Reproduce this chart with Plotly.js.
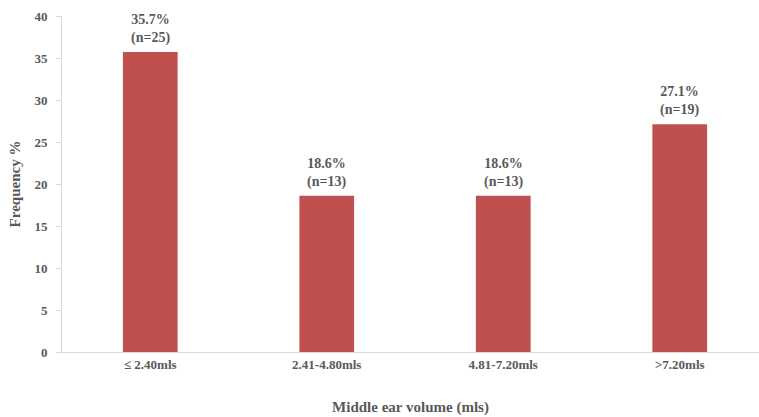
<!DOCTYPE html>
<html>
<head>
<meta charset="utf-8">
<script src="https://cdn.plot.ly/plotly-3.0.1.min.js"></script>
<style>html,body{margin:0;padding:0;background:#fff;}#chart{width:759px;height:417px;}</style>
</head>
<body>
<div id="chart"></div>
<script>
const categories = ["≤ 2.40mls", "2.41-4.80mls", "4.81-7.20mls", ">7.20mls"];
const frequency = [35.7, 18.6, 18.6, 27.1];
const counts = [25, 13, 13, 19];
const yTicks = [0, 5, 10, 15, 20, 25, 30, 35, 40];

const fontFam = '"Liberation Serif", "Times New Roman", serif';
const grey = '#595959';

const annotations = categories.map((c, i) => ({
  x: c, y: frequency[i], xref: 'x', yref: 'y',
  text: frequency[i].toFixed(1) + '%<br>(n=' + counts[i] + ')',
  showarrow: false, yanchor: 'bottom', yshift: 4,
  font: {family: fontFam, size: 14, color: grey, weight: 'bold'}
}));

const trace = {
  type: 'bar', x: categories, y: frequency, width: 0.31,
  marker: {color: '#C0504D'}, hoverinfo: 'none'
};

const layout = {
  width: 759, height: 417,
  margin: {l: 62, r: 0, t: 16, b: 65},
  paper_bgcolor: '#fff', plot_bgcolor: '#fff',
  showlegend: false,
  xaxis: {
    type: 'category', range: [-0.5, 3.449],
    showline: true, linecolor: '#d9d9d9', linewidth: 1,
    ticks: '', showgrid: false, zeroline: false,
    tickfont: {family: fontFam, size: 13, color: grey, weight: 'bold'},
    title: {text: 'Middle ear volume (mls)', font: {family: fontFam, size: 15, color: grey, weight: 'bold'}, standoff: 30}
  },
  yaxis: {
    range: [0, 40], tickvals: yTicks, ticktext: yTicks.map(String),
    showline: true, linecolor: '#d9d9d9', linewidth: 1,
    ticks: 'outside', ticklen: 5, tickcolor: '#d9d9d9',
    ticklabelstandoff: 6,
    showgrid: false, zeroline: false,
    tickfont: {family: fontFam, size: 13, color: grey, weight: 'bold'},
    title: {text: 'Frequency %', font: {family: fontFam, size: 15, color: grey, weight: 'bold'}, standoff: 10}
  },
  annotations: annotations
};

Plotly.newPlot('chart', [trace], layout, {displayModeBar: false, staticPlot: true});
</script>
</body>
</html>
